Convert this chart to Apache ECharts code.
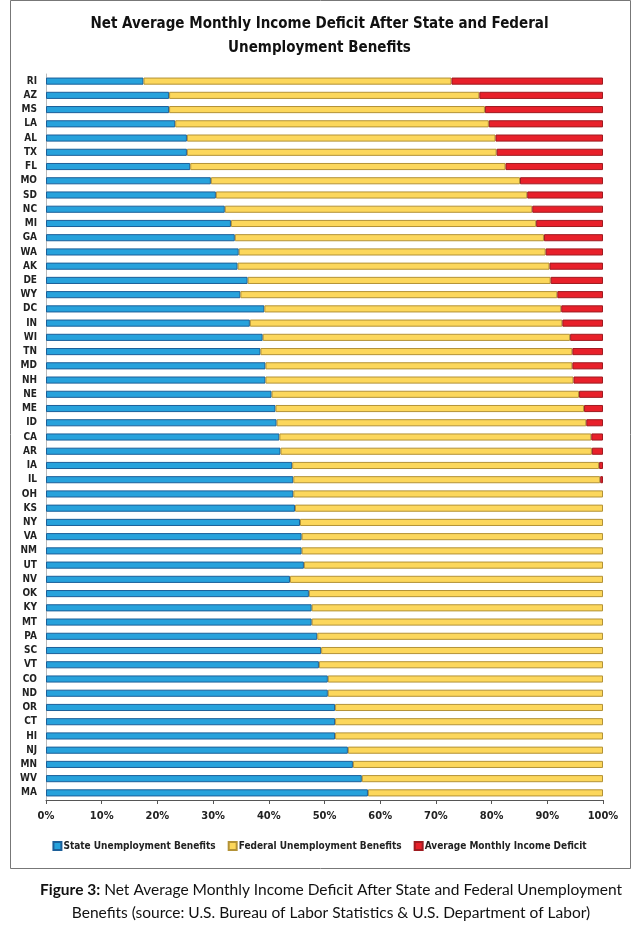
<!DOCTYPE html>
<html>
<head>
<meta charset="utf-8">
<script src="https://cdn.jsdelivr.net/npm/echarts@6/dist/echarts.min.js"></script>
<style>
html,body{margin:0;padding:0;background:#fff;}
#chart{width:639px;height:934px;}
</style>
</head>
<body>
<div id="chart"></div>
<script>
const states = ['RI','AZ','MS','LA','AL','TX','FL','MO','SD','NC','MI','GA','WA','AK','DE','WY','DC','IN','WI','TN','MD','NH','NE','ME','ID','CA','AR','IA','IL','OH','KS','NY','VA','NM','UT','NV','OK','KY','MT','PA','SC','VT','CO','ND','OR','CT','HI','NJ','MN','WV','MA'];
const stateBenefits = [17.5,22.1,22.1,23.2,25.3,25.3,25.9,29.6,30.5,32.1,33.2,33.9,34.6,34.4,36.2,34.9,39.2,36.6,38.9,38.5,39.4,39.4,40.5,41.2,41.4,41.9,42.1,44.2,44.4,44.4,44.7,45.6,45.9,45.9,46.3,43.8,47.2,47.7,47.7,48.7,49.4,49.0,50.6,50.6,51.9,51.9,51.9,54.2,55.1,56.7,57.8];
const federalBenefits = [55.3,55.7,56.7,56.3,55.4,55.6,56.6,55.5,55.9,55.2,54.8,55.5,55.1,56.0,54.4,56.9,53.3,56.1,55.2,56.0,55.1,55.3,55.2,55.4,55.6,56.0,55.9,55.1,55.1,55.6,55.3,54.4,54.1,54.1,53.7,56.2,52.8,52.3,52.3,51.3,50.6,51.0,49.4,49.4,48.1,48.1,48.1,45.8,44.9,43.3,42.2];
const incomeDeficit = [27.2,22.2,21.2,20.5,19.3,19.1,17.5,14.9,13.6,12.7,12.0,10.6,10.3,9.6,9.4,8.2,7.5,7.3,5.9,5.5,5.5,5.3,4.3,3.4,3.0,2.1,2.0,0.7,0.5,0,0,0,0,0,0,0,0,0,0,0,0,0,0,0,0,0,0,0,0,0,0];
const seriesNames = ['State Unemployment Benefits','Federal Unemployment Benefits','Average Monthly Income Deficit'];
const xTicks = [0,10,20,30,40,50,60,70,80,90,100];

const narrow = "'Liberation Sans Narrow','Arial Narrow','DejaVu Sans Condensed',sans-serif";
const chart = echarts.init(document.getElementById('chart'));
const colors = ['#27a2dc','#fcd75c','#e8202a'];
const borders = ['#1c5f99','#b39237','#9e1b20'];
const vals = [stateBenefits, federalBenefits, incomeDeficit];

chart.setOption({
  animation:false,
  backgroundColor:'#fff',
  title:[
    {text:'Net Average Monthly Income Deficit After State and Federal\nUnemployment Benefits',
     left:'center', top:7,
     textStyle:{fontFamily:narrow,fontWeight:'bold',fontSize:15,color:'#111',lineHeight:24}},
    {text:'{b|Figure 3:} Net Average Monthly Income Deficit After State and Federal Unemployment\nBenefits (source: U.S. Bureau of Labor Statistics & U.S. Department of Labor)',
     left:326, textAlign:'center', top:873,
     textStyle:{fontFamily:'Lato',fontWeight:'normal',fontSize:15.5,color:'#111',lineHeight:23,align:'center',
       rich:{b:{fontFamily:'Lato',fontWeight:'bold',fontSize:15.5,color:'#111'}}}}
  ],
  graphic:[{type:'rect',shape:{x:10.5,y:0.5,width:620,height:868},style:{fill:'none',stroke:'#777',lineWidth:1},silent:true}],
  legend:{
    data:seriesNames, left:'center', top:836, itemWidth:8, itemHeight:8, itemGap:12,
    icon:'rect',
    textStyle:{fontFamily:narrow,fontWeight:'bold',fontSize:10,color:'#222',padding:[0,0,0,-3]}
  },
  grid:{left:46,right:36,top:74,bottom:134,containLabel:false},
  xAxis:{
    type:'value', min:0, max:100, interval:10,
    axisLine:{show:true,lineStyle:{color:'#555'}},
    axisTick:{show:true,length:4,lineStyle:{color:'#555'}},
    splitLine:{show:false},
    axisLabel:{formatter:'{value}%',fontFamily:narrow,fontWeight:'bold',fontSize:11,color:'#222',margin:11}
  },
  yAxis:{
    type:'category', data:states, inverse:true,
    axisLine:{show:true,lineStyle:{color:'#bbb'}},
    axisTick:{show:false},
    axisLabel:{fontFamily:narrow,fontWeight:'bold',fontSize:10,color:'#222',margin:9}
  },
  series: seriesNames.map((n,i)=>({
    name:n, type:'bar', stack:'total', barWidth:'50%',
    data:vals[i].map(v => v === 0 ? null : v),
    itemStyle:{color:colors[i],borderColor:borders[i],borderWidth:1}
  }))
});
</script>
</body>
</html>
